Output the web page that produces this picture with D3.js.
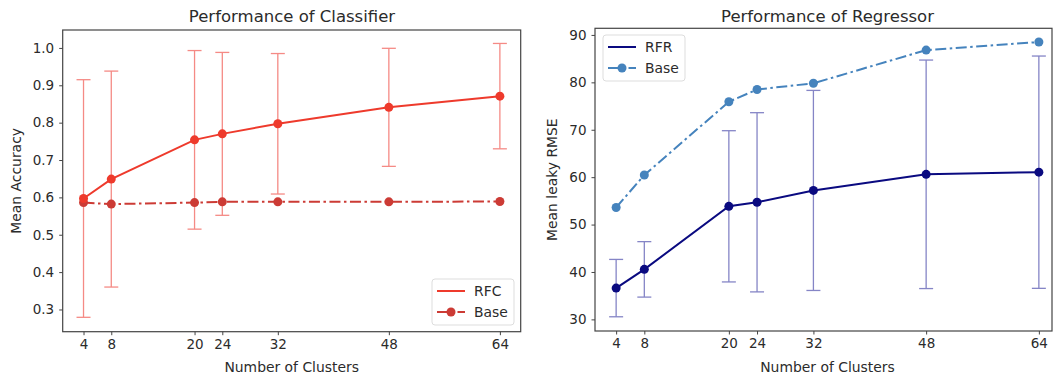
<!DOCTYPE html>
<html>
<head>
<meta charset="utf-8">
<script src="https://cdn.jsdelivr.net/npm/d3@7/dist/d3.min.js"></script>
<style>
  body { margin: 0; background: #fff; }
  svg { display: block; font-family: "DejaVu Sans", sans-serif; }
</style>
</head>
<body>
<svg id="chart" width="1053" height="378"></svg>
<script>
// shared x positions
const clusters = [4, 8, 20, 24, 32, 48, 64];

// classifier
const rfcMean = [0.597, 0.649, 0.754, 0.770, 0.797, 0.841, 0.871];
const rfcErr  = [0.318, 0.289, 0.239, 0.218, 0.188, 0.158, 0.141];
const clfBase = [0.586, 0.582, 0.586, 0.588, 0.588, 0.588, 0.589];
const clfTicks = [0.3, 0.4, 0.5, 0.6, 0.7, 0.8, 0.9, 1.0];

// regressor
const rfrMean = [36.6, 40.55, 53.85, 54.7, 57.2, 60.6, 61.05];
const rfrErr  = [6.05, 5.85, 15.95, 18.9, 21.1, 24.1, 24.5];
const regBase = [53.6, 60.45, 75.9, 78.5, 79.8, 86.8, 88.5];
const regTicks = [30, 40, 50, 60, 70, 80, 90];

const svg = d3.select("#chart");
const textColor = "#2b2b2b";

function drawPanel(o) {
  const x = d3.scaleLinear().domain([1, 67]).range([o.left, o.right]);
  const y = d3.scaleLinear().domain(o.yDomain).range([o.bottom, o.top]);
  const g = svg.append("g");

  // error bars
  const eb = g.append("g").attr("stroke", o.errColor).attr("stroke-width", 1.3);
  clusters.forEach((c, i) => {
    const lo = o.mean[i] - o.err[i], hi = o.mean[i] + o.err[i];
    eb.append("line").attr("x1", x(c)).attr("x2", x(c)).attr("y1", y(lo)).attr("y2", y(hi));
    [lo, hi].forEach(v => {
      eb.append("line").attr("x1", x(c) - 7).attr("x2", x(c) + 7).attr("y1", y(v)).attr("y2", y(v));
    });
  });

  const line = d3.line().x((d, i) => x(clusters[i])).y(d => y(d));

  // base (dash-dot)
  g.append("path").datum(o.base)
    .attr("fill", "none").attr("stroke", o.baseColor).attr("stroke-width", 2)
    .attr("stroke-dasharray", "11,3.5,2.5,3.5")
    .attr("d", line);
  g.selectAll(null).data(o.base).enter().append("circle")
    .attr("cx", (d, i) => x(clusters[i])).attr("cy", d => y(d)).attr("r", 4.5)
    .attr("fill", o.baseColor);

  // model mean
  g.append("path").datum(o.mean)
    .attr("fill", "none").attr("stroke", o.meanColor).attr("stroke-width", 2)
    .attr("d", line);
  g.selectAll(null).data(o.mean).enter().append("circle")
    .attr("cx", (d, i) => x(clusters[i])).attr("cy", d => y(d)).attr("r", 4.5)
    .attr("fill", o.meanColor);

  // frame
  g.append("rect")
    .attr("x", o.left).attr("y", o.top)
    .attr("width", o.frameRight - o.left).attr("height", o.bottom - o.top)
    .attr("fill", "none").attr("stroke", "#444").attr("stroke-width", 1.2);

  // axes
  const xa = g.append("g").attr("transform", `translate(0,${o.bottom})`)
    .call(d3.axisBottom(x).tickValues(clusters).tickSize(3.5).tickPadding(4).tickFormat(d3.format("d")));
  const ya = g.append("g").attr("transform", `translate(${o.left},0)`)
    .call(d3.axisLeft(y).tickValues(o.ticks).tickSize(3.5).tickPadding(5).tickFormat(o.fmt));
  [xa, ya].forEach(a => {
    a.select(".domain").remove();
    a.selectAll("line").attr("stroke", "#444");
    a.selectAll("text").attr("fill", textColor).style("font-size", "13.5px")
      .style("font-family", "DejaVu Sans, sans-serif");
  });

  // title and labels
  g.append("text").attr("x", o.titleX).attr("y", 22).attr("text-anchor", "middle")
    .attr("fill", textColor).style("font-size", "16.5px").text(o.title);
  g.append("text").attr("x", (o.left + o.right) / 2).attr("y", 372).attr("text-anchor", "middle")
    .attr("fill", textColor).style("font-size", "13.9px").text("Number of Clusters");
  g.append("text")
    .attr("transform", `translate(${o.yLabelX},${(o.top + o.bottom) / 2}) rotate(-90)`)
    .attr("text-anchor", "middle").attr("dy", "0.35em")
    .attr("fill", textColor).style("font-size", "13.9px").text(o.yLabel);

  // legend
  const lg = g.append("g").attr("transform", `translate(${o.legend[0]},${o.legend[1]})`);
  lg.append("rect").attr("width", 82).attr("height", 46).attr("rx", 3)
    .attr("fill", "#fff").attr("fill-opacity", 0.8).attr("stroke", "#ddd");
  lg.append("line").attr("x1", 5).attr("x2", 33).attr("y1", 12).attr("y2", 12)
    .attr("stroke", o.meanColor).attr("stroke-width", 2);
  lg.append("line").attr("x1", 5).attr("x2", 33).attr("y1", 33).attr("y2", 33)
    .attr("stroke", o.baseColor).attr("stroke-width", 2).attr("stroke-dasharray", "11,3.5,2.5,3.5");
  lg.append("circle").attr("cx", 19).attr("cy", 33).attr("r", 4.5).attr("fill", o.baseColor);
  o.names.forEach((n, i) => {
    lg.append("text").attr("x", 42).attr("y", 12 + i * 21).attr("dy", "0.35em")
      .attr("fill", textColor).style("font-size", "13.9px").text(n);
  });
}

drawPanel({
  left: 62.7, right: 520.7, frameRight: 520.7, top: 30, bottom: 331.7,
  yDomain: [0.2405, 1.048], ticks: clfTicks, fmt: d3.format(".1f"),
  mean: rfcMean, err: rfcErr, base: clfBase,
  meanColor: "#ee3a2c", baseColor: "#cc3b35", errColor: "#f58a85",
  title: "Performance of Classifier", titleX: 292, yLabel: "Mean Accuracy", yLabelX: 16,
  names: ["RFC", "Base"], legend: [432, 279]
});

drawPanel({
  left: 595, right: 1060, frameRight: 1052, top: 28.3, bottom: 331,
  yDomain: [27.55, 91.4], ticks: regTicks, fmt: d3.format("d"),
  mean: rfrMean, err: rfrErr, base: regBase,
  meanColor: "#0a0a80", baseColor: "#4583bd", errColor: "#8585c6",
  title: "Performance of Regressor", titleX: 827.5, yLabel: "Mean leaky RMSE", yLabelX: 552.5,
  names: ["RFR", "Base"], legend: [603, 35]
});
</script>
</body>
</html>
